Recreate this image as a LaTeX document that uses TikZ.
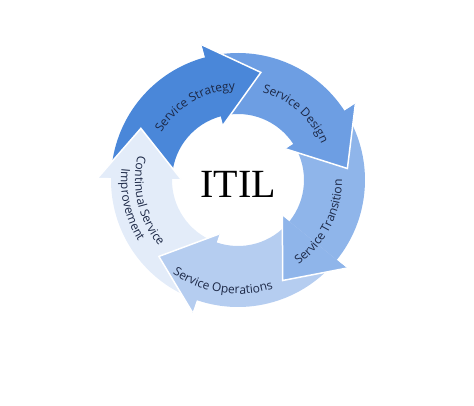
\documentclass[tikz,border=0pt]{standalone}
\usepackage{fontspec}
\usepackage{tikz}
\usetikzlibrary{decorations.text}

\newfontfamily\labelfont{Open Sans}
\newfontfamily\titlefont{Liberation Serif}

\definecolor{strat}{RGB}{74,135,217}
\definecolor{design}{RGB}{109,158,227}
\definecolor{trans}{RGB}{143,181,234}
\definecolor{oper}{RGB}{181,205,240}
\definecolor{csi}{RGB}{227,236,249}
\definecolor{txtcol}{RGB}{28,40,70}

\newcommand\lbl{\labelfont\fontsize{12}{14}\selectfont\color{txtcol}}

\begin{document}
\begin{tikzpicture}[x=1pt, y=1pt,
  curved/.style={decorate, decoration={text along path, text align=center}}]

\def\ri{66}
\def\ro{127}
\def\hi{57}
\def\ho{140}
\def\rt{110}

\useasboundingbox (-238,-225) rectangle (236,180);

% ring of arrows, clockwise
\foreach \a/\c in {78/strat, 6/design, -66/trans, -136/oper, -208/csi}{
  \pgfmathsetmacro\tailA{\a+97}
  \pgfmathsetmacro\baseA{\a+27}
  \fill[\c] (\tailA:\ro) arc[start angle=\tailA, end angle=\baseA, radius=\ro]
    -- (\baseA:\ho) -- (\a:\rt) -- (\baseA:\hi) -- (\baseA:\ri)
    arc[start angle=\baseA, end angle=\tailA, radius=\ri] -- cycle;
}

% heads again, over the next tail
\foreach \a/\c in {78/strat, 6/design, -66/trans, -136/oper, -208/csi}{
  \pgfmathsetmacro\baseA{\a+27}
  \fill[\c] (\baseA:\ho) -- (\a:\rt) -- (\baseA:\hi) -- cycle;
  \draw[white, line width=1.5pt] (\baseA:\ho) -- (\a:\rt) -- (\baseA:\hi);
}

\node (itil) at (0,-4) {\titlefont\fontsize{40}{44}\selectfont ITIL};

\path[curved, decoration={text={|\lbl|Service Strategy}}]
  (170:90) arc[start angle=170, end angle=70, radius=90];
\path[curved, decoration={text={|\lbl|Service Design}}]
  (99:91) arc[start angle=99, end angle=-1, radius=91];
\path[curved, decoration={text={|\lbl|Service Transition}}]
  (-77:104) arc[start angle=-77, end angle=23, radius=104];
\path[curved, decoration={text={|\lbl|Service Operations}}]
  (211.5:114) arc[start angle=211.5, end angle=311.5, radius=114];
\path[curved, decoration={text={|\lbl|Continual Service}}]
  (143:103) arc[start angle=143, end angle=243, radius=103];
\path[curved, decoration={text={|\lbl|Improvement}}]
  (143:117) arc[start angle=143, end angle=243, radius=117];

\end{tikzpicture}
\end{document}
